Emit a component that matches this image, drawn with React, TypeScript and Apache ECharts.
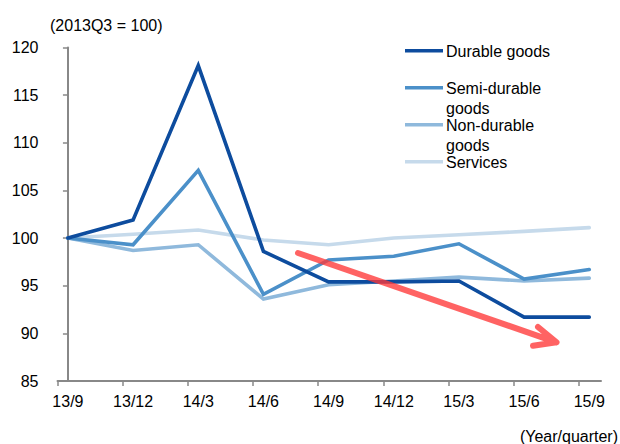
import React, { useEffect, useRef } from "react";
import * as echarts from "echarts";

const categories = ["13/9", "13/12", "14/3", "14/6", "14/9", "14/12", "15/3", "15/6", "15/9"];
const durable = [100, 101.9, 118.1, 98.6, 95.4, 95.4, 95.5, 91.7, 91.7];
const semiDurable = [100, 99.3, 107.1, 94.1, 97.7, 98.1, 99.4, 95.7, 96.7];
const nonDurable = [100, 98.7, 99.3, 93.6, 95.1, 95.5, 95.9, 95.5, 95.8];
const services = [100, 100.4, 100.85, 99.8, 99.3, 100.0, 100.35, 100.7, 101.1];

const seriesNames = ["Durable goods", "Semi-durable goods", "Non-durable goods", "Services"];
const legendLabels = ["Durable goods", "Semi-durable\ngoods", "Non-durable\ngoods", "Services"];
const seriesData = [durable, semiDurable, nonDurable, services];
const colors = ["#0D4C9E", "#4B90C9", "#8FB9DC", "#C6DAEB"];

const yMin = 85;
const yMax = 120;
const yStep = 5;
const tickShift = 0.16;

const FONT = "'Liberation Sans', Arial, Helvetica, sans-serif";

export default function App() {
  const ref = useRef<HTMLDivElement>(null);

  useEffect(() => {
    if (!ref.current) return;
    const chart = echarts.init(ref.current, null, { renderer: "svg" });

    const legendY = [50.7, 87.7, 124.7, 161.7];
    const legendGraphics: any[] = [];
    legendLabels.forEach((label, i) => {
      legendGraphics.push({
        type: "line",
        shape: { x1: 405, y1: legendY[i], x2: 443, y2: legendY[i] },
        style: { stroke: colors[i], lineWidth: 3.5 },
        z: 10,
      });
      legendGraphics.push({
        type: "text",
        x: 446,
        y: legendY[i] + 1 - 9.75,
        style: {
          text: label,
          fontSize: 16,
          fontFamily: FONT,
          fill: "#000",
          lineHeight: 19.5,
          verticalAlign: "top",
          align: "left",
        },
        z: 10,
      });
    });

    chart.setOption({
      animation: false,
      grid: { left: 57.5, right: 19, top: 47.5, bottom: 63, containLabel: false },
      xAxis: {
        type: "value",
        min: -tickShift,
        max: categories.length - 1 + 0.18,
        splitLine: { show: false },
        axisLine: { show: true, onZero: false, lineStyle: { color: "#888888", width: 2 } },
        axisTick: {
          show: true,
          length: 5,
          inside: false,
          lineStyle: { color: "#888888", width: 1.5 },
          customValues: categories.map((_, i) => i - tickShift),
        },
        axisLabel: {
          customValues: categories.map((_, i) => i),
          formatter: (v: number) => categories[Math.round(v)] ?? "",
          fontSize: 16,
          fontFamily: FONT,
          color: "#000",
          margin: 12,
        },
      },
      yAxis: {
        type: "value",
        min: yMin,
        max: yMax,
        interval: yStep,
        splitLine: { show: false },
        axisLine: { show: true, lineStyle: { color: "#888888", width: 2 } },
        axisTick: { show: true, length: 5, lineStyle: { color: "#888888", width: 1.5 } },
        axisLabel: { fontSize: 16, fontFamily: FONT, color: "#000", margin: 19 },
      },
      series: seriesData
        .map((d, i) => ({
          name: seriesNames[i],
          type: "line",
          data: d.map((v, k) => [k, v]),
          showSymbol: false,
          symbol: "none",
          lineStyle: { color: colors[i], width: 3.6, cap: "round", join: "miter" },
          itemStyle: { color: colors[i] },
          z: 10 - i,
        }))
        .reverse(),
      graphic: [
        {
          type: "text",
          x: 50,
          y: 25,
          style: {
            text: "(2013Q3 = 100)",
            fontSize: 16,
            fontFamily: FONT,
            fill: "#000",
            verticalAlign: "middle",
            align: "left",
          },
        },
        {
          type: "text",
          x: 618,
          y: 436,
          style: {
            text: "(Year/quarter)",
            fontSize: 16,
            fontFamily: FONT,
            fill: "#000",
            verticalAlign: "middle",
            align: "right",
          },
        },
        {
          type: "polyline",
          shape: {
            points: [
              [298, 253],
              [556.5, 342.3],
              [538, 327],
              [556.5, 342.3],
              [533, 345.7],
            ],
          },
          style: {
            stroke: "rgba(255,55,55,0.78)",
            lineWidth: 6,
            lineCap: "round",
            lineJoin: "round",
            fill: null,
          },
          z: 20,
        },
        ...legendGraphics,
      ],
    });

    return () => chart.dispose();
  }, []);

  return (
    <div
      ref={ref}
      style={{ position: "absolute", left: 0, top: 0, width: 620, height: 444, background: "#fff" }}
    />
  );
}
